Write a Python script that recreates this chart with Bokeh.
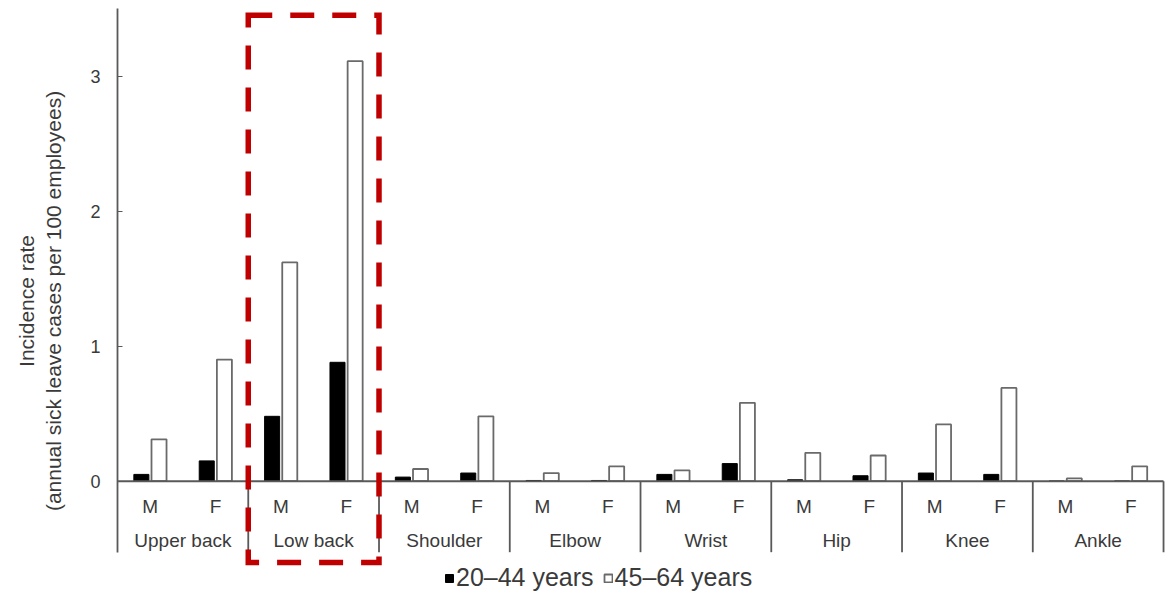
from bokeh.plotting import figure
from bokeh.models import (ColumnDataSource, Range1d, FixedTicker, Legend, LegendItem,
                          BoxAnnotation)
from bokeh.core.properties import value
from bokeh.embed import file_html
from bokeh.resources import INLINE

# ---------------- data ----------------
regions = ["Upper back", "Low back", "Shoulder", "Elbow", "Wrist", "Hip", "Knee", "Ankle"]
sexes = ["M", "F"]
# incidence rate per 100 employees, ordered region by region: M, F
young_20_44 = [0.05, 0.15, 0.48, 0.88, 0.03, 0.06, 0.005, 0.005,
               0.05, 0.13, 0.01, 0.04, 0.06, 0.05, 0.0, 0.0]
old_45_64 = [0.31, 0.90, 1.62, 3.11, 0.09, 0.48, 0.06, 0.11,
             0.08, 0.58, 0.21, 0.19, 0.42, 0.69, 0.02, 0.11]
series_labels = ["20\u201344 years", "45\u201364 years"]
y_ticks = [0, 1, 2, 3]
highlight_region = "Low back"

FONT = "Liberation Sans"
TXT = "#3a3a3a"
AX = "#595959"

n_sub = len(regions) * len(sexes)
centers = [i + 0.5 for i in range(n_sub)]
off = 0.135
bw = 0.23

src = ColumnDataSource(dict(
    xb=[c - off for c in centers],
    xw=[c + off for c in centers],
    young=young_20_44,
    old=old_45_64,
))

y_sep = -0.526   # bottom of the category band
p = figure(width=1171, height=593, output_backend="svg", toolbar_location=None,
           x_range=Range1d(0, n_sub + 0.03), y_range=Range1d(-0.832, 3.5),
           x_axis_type=None, min_border_left=117, min_border_right=6,
           min_border_top=8, min_border_bottom=0)
p.outline_line_color = None
p.xgrid.visible = False
p.ygrid.visible = False

r_young = p.vbar(x="xb", top="young", bottom=0, width=bw, source=src,
                 fill_color="black", line_color="black", line_width=1)
r_old = p.vbar(x="xw", top="old", bottom=0, width=bw, source=src,
               fill_color="white", line_color="#6a6a6a", line_width=1.8)

# zero line and category separators
p.segment(x0=[0], y0=[0], x1=[n_sub], y1=[0], line_color=AX, line_width=2)
seps = [2 * (g + 1) for g in range(len(regions))]
p.segment(x0=seps, y0=[0] * len(seps), x1=seps, y1=[y_sep] * len(seps),
          line_color=AX, line_width=1.8)

# M / F labels and region labels
p.text(x=centers, y=[-0.185] * n_sub, text=sexes * len(regions),
       text_align="center", text_baseline="middle",
       text_font=value(FONT), text_font_size="19px", text_color=TXT)
p.text(x=[2 * g + 1 for g in range(len(regions))], y=[-0.44] * len(regions), text=regions,
       text_align="center", text_baseline="middle",
       text_font=value(FONT), text_font_size="19px", text_color=TXT)

# y axis
ya = p.yaxis[0]
ya.ticker = FixedTicker(ticks=y_ticks)
ya.bounds = (y_sep, 3.5)
ya.axis_line_color = AX
ya.axis_line_width = 1.8
ya.major_tick_in = 5
ya.major_tick_out = 0
ya.major_tick_line_color = AX
ya.minor_tick_line_color = None
ya.major_label_standoff = 17
ya.major_label_text_font = FONT
ya.major_label_text_font_size = "18px"
ya.major_label_text_color = TXT
ya.axis_label = "Incidence rate\n(annual sick leave cases per 100 employees)"
ya.axis_label_text_font = FONT
ya.axis_label_text_font_size = "21px"
ya.axis_label_text_font_style = "normal"
ya.axis_label_text_color = TXT
ya.axis_label_standoff = 22

# highlight box around the Low back group
gi = regions.index(highlight_region)
box = BoxAnnotation(left=2 * gi, right=2 * gi + 2, top=3.45, bottom=-0.603,
                    fill_alpha=0, line_color="#C00000", line_alpha=1.0,
                    line_width=5.5, line_dash="24 18", line_join="miter",
                    line_cap="butt")
p.add_layout(box)

legend = Legend(items=[LegendItem(label=series_labels[0], renderers=[r_young]),
                       LegendItem(label=series_labels[1], renderers=[r_old])],
                orientation="horizontal", location=(327, 1),
                glyph_width=10, glyph_height=10, label_standoff=2, spacing=9,
                padding=0, margin=0, border_line_color=None,
                background_fill_alpha=0, label_text_font=FONT,
                label_text_font_size="25px", label_text_color=TXT)
p.add_layout(legend)

open("out.html", "w").write(file_html(p, INLINE))
